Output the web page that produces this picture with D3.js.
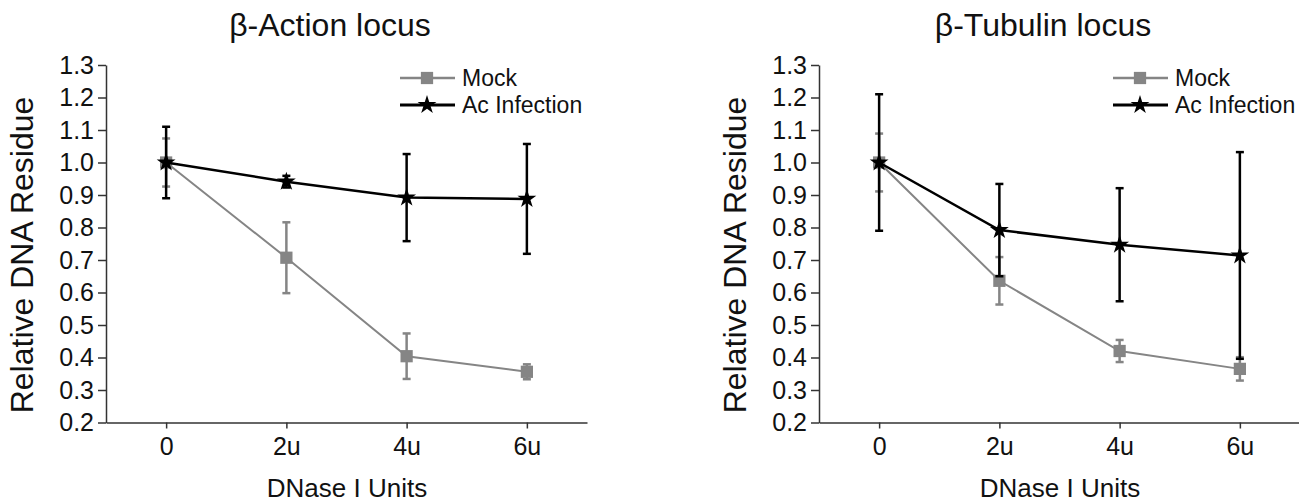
<!DOCTYPE html>
<html>
  <head>
    <meta charset="utf-8" />
    <title>DNase I sensitivity</title>
    <script src="https://d3js.org/d3.v7.min.js"></script>
    <style>
        body {
            margin:0;
            background: white;
        }
        text {
            font-family: "Liberation Sans", Arial, sans-serif;
            fill: #111;
        }
    </style>
  </head>
  <body>
    <svg id="viz"></svg>

    <script>
    var width = 1299;
    var height = 502;

    // data
    var units = ["0", "2u", "4u", "6u"];
    var yTicks = [0.2, 0.3, 0.4, 0.5, 0.6, 0.7, 0.8, 0.9, 1.0, 1.1, 1.2, 1.3];
    var seriesNames = ["Mock", "Ac Infection"];

    var actinMock = [1.0, 0.707, 0.404, 0.356];
    var actinMockErr = [0.074, 0.109, 0.07, 0.023];
    var actinAc = [1.0, 0.941, 0.892, 0.888];
    var actinAcErr = [0.11, 0.018, 0.134, 0.169];

    var tubulinMock = [1.0, 0.636, 0.42, 0.365];
    var tubulinMockErr = [0.089, 0.073, 0.034, 0.036];
    var tubulinAc = [1.0, 0.792, 0.747, 0.714];
    var tubulinAcErr = [0.21, 0.142, 0.174, 0.318];

    var svg = d3.select("#viz")
      .attr("width", width)
      .attr("height", height);

    var mockColor = "#858585";
    var acColor = "#000";

    function panel(offset, title, mock, mockErr, ac, acErr) {
      var g = svg.append("g").attr("transform", "translate(" + offset + ",0)");

      var x = d3.scalePoint().domain(units).range([106, 587]).padding(0.5);
      var y = d3.scaleLinear().domain([0.2, 1.3]).range([422.5, 65]);

      // axes
      var yAxis = g.append("g")
        .attr("transform", "translate(106,0)")
        .call(d3.axisLeft(y).tickValues(yTicks).tickFormat(d3.format(".1f")).tickSize(8).tickSizeOuter(0).tickPadding(4));
      yAxis.selectAll("text").style("font-size", "25px");

      var xAxis = g.append("g")
        .attr("transform", "translate(0,422.5)")
        .call(d3.axisBottom(x).tickSize(6).tickSizeOuter(0).tickPadding(9));
      xAxis.selectAll("text").style("font-size", "25px");

      g.selectAll(".domain, .tick line").attr("stroke", "#333").attr("stroke-width", 1.5);

      g.append("text")
        .attr("x", 330).attr("y", 36)
        .attr("text-anchor", "middle")
        .style("font-size", "32px")
        .text(title);

      g.append("text")
        .attr("x", 347).attr("y", 497)
        .attr("text-anchor", "middle")
        .style("font-size", "26px")
        .text("DNase I Units");

      g.append("text")
        .attr("transform", "translate(33,255) rotate(-90)")
        .attr("text-anchor", "middle")
        .style("font-size", "32px")
        .text("Relative DNA Residue");

      var series = [
        {vals: mock, err: mockErr, color: mockColor, lw: 2, sym: d3.symbolSquare, size: 150},
        {vals: ac, err: acErr, color: acColor, lw: 2.5, sym: d3.symbolStar, size: 110}
      ];

      var line = d3.line()
        .x(function(d, i) { return x(units[i]); })
        .y(function(d) { return y(d); });

      series.forEach(function(s) {
        var sg = g.append("g");
        sg.append("path")
          .attr("d", line(s.vals))
          .attr("fill", "none")
          .attr("stroke", s.color)
          .attr("stroke-width", s.lw);

        var bars = sg.selectAll(".err").data(s.vals).enter().append("g");
        bars.append("line")
          .attr("x1", function(d, i) { return x(units[i]); })
          .attr("x2", function(d, i) { return x(units[i]); })
          .attr("y1", function(d, i) { return y(d + s.err[i]); })
          .attr("y2", function(d, i) { return y(d - s.err[i]); })
          .attr("stroke", s.color).attr("stroke-width", 2.5);
        [1, -1].forEach(function(sign) {
          bars.append("line")
            .attr("x1", function(d, i) { return x(units[i]) - 4; })
            .attr("x2", function(d, i) { return x(units[i]) + 4; })
            .attr("y1", function(d, i) { return y(d + sign * s.err[i]); })
            .attr("y2", function(d, i) { return y(d + sign * s.err[i]); })
            .attr("stroke", s.color).attr("stroke-width", 2.5);
        });

        sg.selectAll(".pt").data(s.vals).enter().append("path")
          .attr("d", d3.symbol().type(s.sym).size(s.size))
          .attr("transform", function(d, i) {
            return "translate(" + x(units[i]) + "," + y(d) + ")";
          })
          .attr("fill", s.color);
      });

      // legend
      var leg = g.append("g").attr("transform", "translate(400,78)");
      series.forEach(function(s, i) {
        var row = leg.append("g").attr("transform", "translate(0," + (i * 27) + ")");
        row.append("line").attr("x1", 0).attr("x2", 55)
          .attr("stroke", s.color).attr("stroke-width", s.lw + 0.5);
        row.append("path")
          .attr("d", d3.symbol().type(s.sym).size(s.size))
          .attr("transform", "translate(27,0)")
          .attr("fill", s.color);
        row.append("text")
          .attr("x", 62).attr("y", 8)
          .style("font-size", "23px")
          .text(seriesNames[i]);
      });
    }

    panel(0, "β-Action locus", actinMock, actinMockErr, actinAc, actinAcErr);
    panel(713, "β-Tubulin locus", tubulinMock, tubulinMockErr, tubulinAc, tubulinAcErr);
    </script>
  </body>
</html>
